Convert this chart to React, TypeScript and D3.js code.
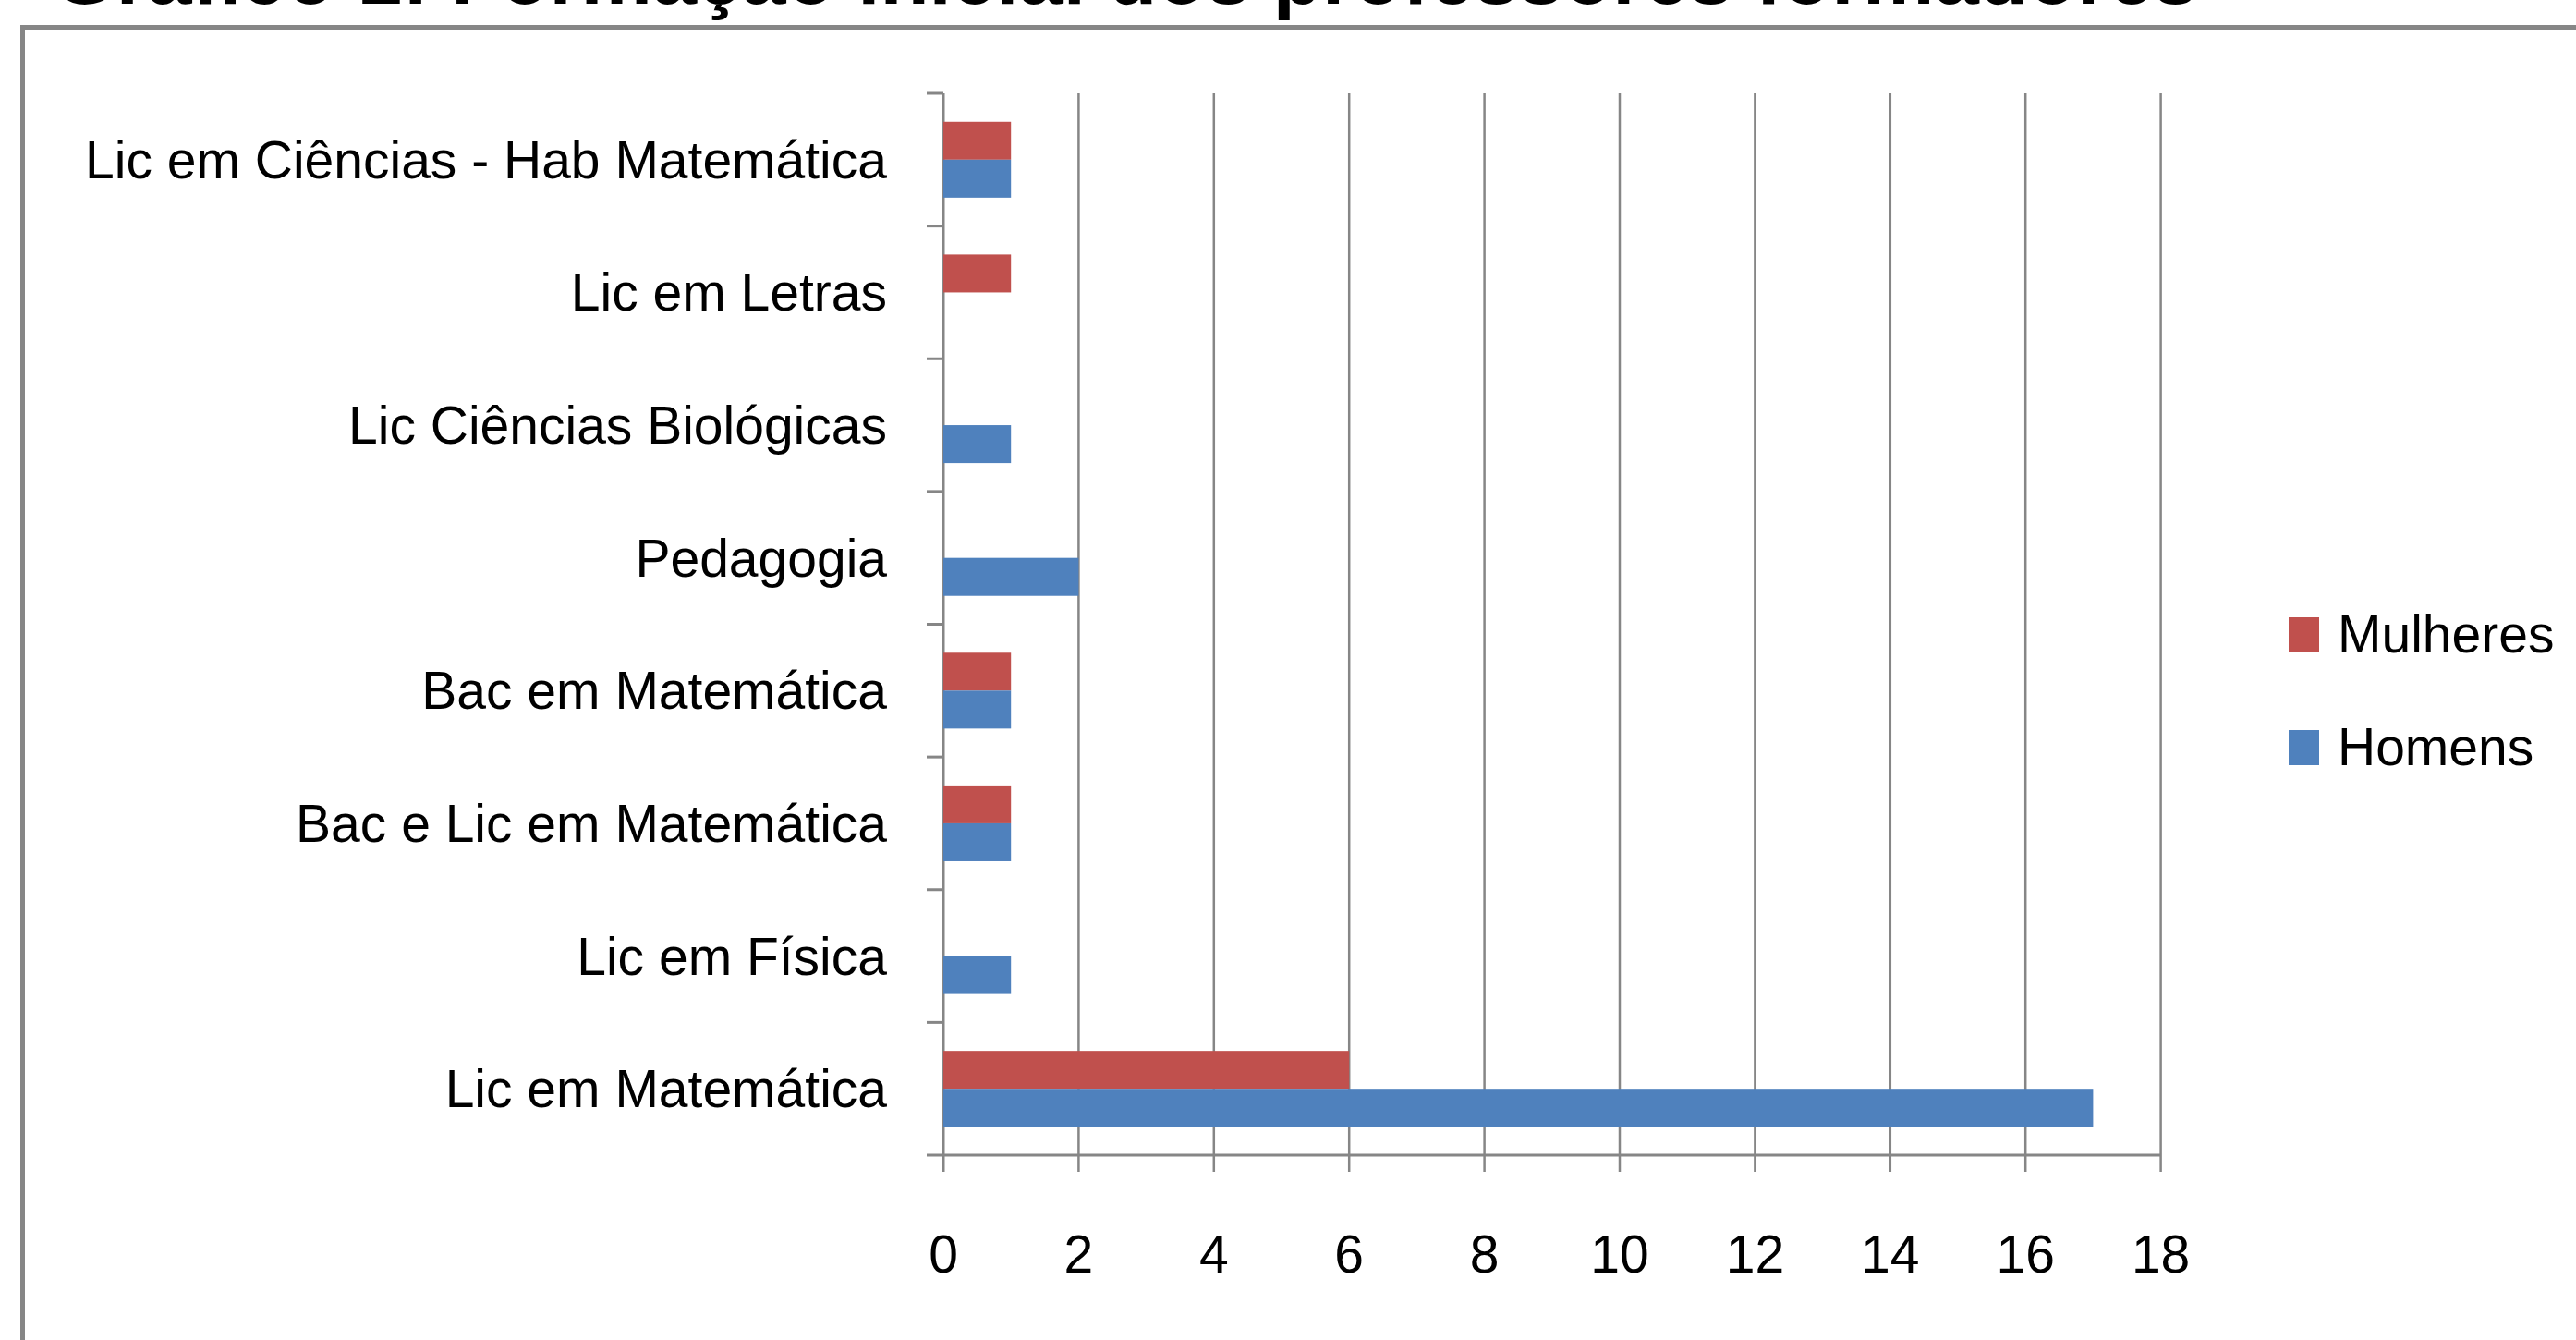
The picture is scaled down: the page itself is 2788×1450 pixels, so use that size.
import React from "react";
import * as d3 from "d3";

const categories = [
  "Lic em Ciências - Hab Matemática",
  "Lic em Letras",
  "Lic Ciências Biológicas",
  "Pedagogia",
  "Bac em Matemática",
  "Bac e Lic em Matemática",
  "Lic em Física",
  "Lic em Matemática",
];
const seriesNames = ["Mulheres", "Homens"];
const mulheres = [1, 1, 0, 0, 1, 1, 0, 6];
const homens = [1, 0, 1, 2, 1, 1, 1, 17];
const xTicks = [0, 2, 4, 6, 8, 10, 12, 14, 16, 18];
const title = "Gráfico 1: Formação inicial dos professores formadores";

const COLORS: Record<string, string> = { Mulheres: "#C0504D", Homens: "#4F81BD" };
const GRID = "#868686";
const FONT = "'Liberation Sans', Arial, sans-serif";

export default function App() {
  const W = 2788, H = 1450;
  const left = 1021, right = 2338.6, top = 101, bottom = 1250;
  const x = d3.scaleLinear().domain([0, 18]).range([left, right]);
  const y = d3.scaleBand<string>().domain(categories).range([top, bottom]).paddingInner(0).paddingOuter(0);
  const ys = d3.scaleBand<string>().domain(seriesNames).range([0, y.bandwidth()]).paddingInner(0).paddingOuter(0.75);
  const values: Record<string, number[]> = { Mulheres: mulheres, Homens: homens };
  const fs = 57;

  return (
    <svg width={W} height={H} style={{ position: "absolute", left: 0, top: 0, background: "#fff" }} fontFamily={FONT}>
      <rect x={0} y={0} width={W} height={H} fill="#fff" />
      {/* title, mostly cut off at the top edge as in the source */}
      <text x={58} y={4} fontSize={87} fontWeight="bold" fill="#000">{title}</text>
      {/* chart border */}
      <rect x={24.5} y={29.5} width={W + 100} height={H + 100} fill="none" stroke={GRID} strokeWidth={5} />

      {/* gridlines and bottom ticks */}
      {xTicks.map((t) => (
        <line key={"g" + t} x1={x(t)} x2={x(t)} y1={top} y2={bottom + 18} stroke={GRID} strokeWidth={t === 0 ? 3 : 2.5} />
      ))}
      {/* bottom axis */}
      <line x1={left - 18} x2={right} y1={bottom} y2={bottom} stroke={GRID} strokeWidth={3} />
      {/* category ticks */}
      {categories.map((c) => (
        <line key={"t" + c} x1={left - 18} x2={left} y1={y(c)!} y2={y(c)!} stroke={GRID} strokeWidth={3} />
      ))}

      {/* bars */}
      {seriesNames.map((s) =>
        categories.map((c, i) =>
          values[s][i] > 0 ? (
            <rect
              key={s + c}
              x={x(0)}
              y={y(c)! + ys(s)!}
              width={x(values[s][i]) - x(0)}
              height={ys.bandwidth()}
              fill={COLORS[s]}
            />
          ) : null
        )
      )}

      {/* category labels */}
      {categories.map((c) => (
        <text key={"l" + c} x={960} y={y(c)! + y.bandwidth() / 2 + 20} fontSize={fs} textAnchor="end" fill="#000">
          {c}
        </text>
      ))}

      {/* x tick labels */}
      {xTicks.map((t) => (
        <text key={"x" + t} x={x(t)} y={1377} fontSize={fs} textAnchor="middle" fill="#000">
          {t}
        </text>
      ))}

      {/* legend */}
      {seriesNames.map((s, i) => (
        <g key={"lg" + s} transform={`translate(2477, ${668 + i * 122})`}>
          <rect x={0} y={0} width={33} height={38} fill={COLORS[s]} />
          <text x={53} y={38} fontSize={fs} fill="#000">{s}</text>
        </g>
      ))}
    </svg>
  );
}
